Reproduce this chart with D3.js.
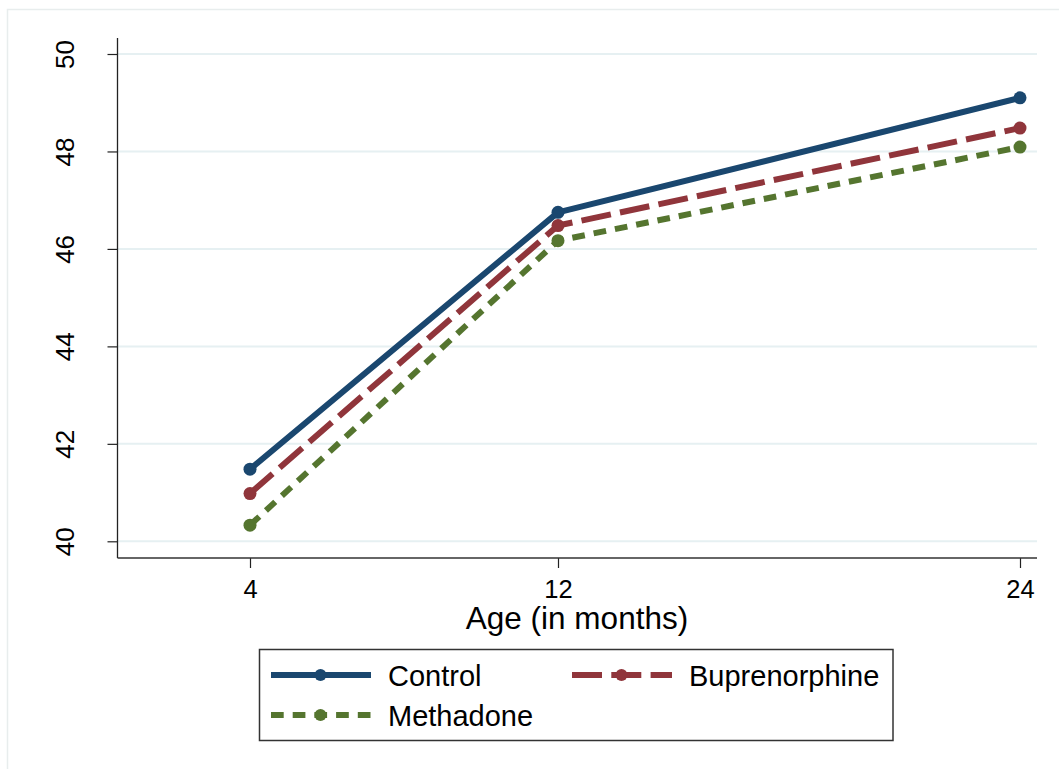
<!DOCTYPE html>
<html>
<head>
<meta charset="utf-8">
<script src="https://cdn.jsdelivr.net/npm/d3@7.9.0/dist/d3.min.js"></script>
<style>
  body { margin: 0; background: #fff; }
  svg { display: block; font-family: "Liberation Sans", Arial, sans-serif; }
</style>
</head>
<body>
<svg id="chart" width="1059" height="769"></svg>
<script>
// data
const ages = [4, 12, 24];
const control = [41.48, 46.75, 49.1];
const buprenorphine = [40.98, 46.48, 48.48];
const methadone = [40.33, 46.17, 48.09];
const yTicks = [40, 42, 44, 46, 48, 50];
const seriesNames = ['Control', 'Buprenorphine', 'Methadone'];

const series = [
  { name: seriesNames[0], values: control, color: '#1a476f', dash: null },
  { name: seriesNames[1], values: buprenorphine, color: '#90353b', dash: '30,9.3' },
  { name: seriesNames[2], values: methadone, color: '#55752f', dash: '12.7,9' }
];

const svg = d3.select('#chart');

// outer frame (only top/left visible in the image)
svg.append('rect')
  .attr('x', 7.5).attr('y', 9.5)
  .attr('width', 1100).attr('height', 800)
  .attr('fill', 'none').attr('stroke', '#e8eded').attr('stroke-width', 1.5);

const x = d3.scaleLinear().domain([4, 24]).range([250, 1020]);
const y = d3.scaleLinear().domain([40, 50]).range([541.3, 54]);
const plotLeft = 117.5, plotRight = 1037, plotTop = 38, plotBottom = 558;

// gridlines
svg.append('g').selectAll('line')
  .data(yTicks)
  .join('line')
  .attr('x1', plotLeft).attr('x2', plotRight)
  .attr('y1', d => y(d)).attr('y2', d => y(d))
  .attr('stroke', '#e6f0f2').attr('stroke-width', 2);

// y axis
const yAxis = svg.append('g')
  .attr('transform', `translate(${plotLeft},0)`)
  .call(d3.axisLeft(y).tickValues(yTicks).tickSize(10).tickSizeOuter(0));
yAxis.select('.domain').remove();
yAxis.selectAll('.tick line').attr('stroke', '#222').attr('stroke-width', 1.2);
yAxis.selectAll('.tick text')
  .attr('x', 0).attr('dy', null)
  .attr('transform', 'translate(-44,0) rotate(-90)')
  .attr('text-anchor', 'middle')
  .attr('font-size', 26).attr('fill', '#000');

svg.append('line')
  .attr('x1', plotLeft).attr('x2', plotLeft).attr('y1', plotTop).attr('y2', plotBottom)
  .attr('stroke', '#222').attr('stroke-width', 1.3);

// x axis
const xAxis = svg.append('g')
  .attr('transform', `translate(0,${plotBottom})`)
  .call(d3.axisBottom(x).tickValues(ages).tickSize(10).tickSizeOuter(0));
xAxis.select('.domain').remove();
xAxis.selectAll('.tick line').attr('stroke', '#222').attr('stroke-width', 1.2);
xAxis.selectAll('.tick text')
  .attr('y', 40).attr('dy', null)
  .attr('font-size', 25.5).attr('fill', '#000');

svg.append('line')
  .attr('x1', plotLeft).attr('x2', plotRight).attr('y1', plotBottom).attr('y2', plotBottom)
  .attr('stroke', '#333').attr('stroke-width', 1.3);

svg.append('text')
  .attr('x', 577).attr('y', 629)
  .attr('text-anchor', 'middle')
  .attr('font-size', 31.5)
  .text('Age (in months)');

// lines + markers
const line = d3.line().x((d, i) => x(ages[i])).y(d => y(d));

series.forEach(s => {
  svg.append('path')
    .attr('d', line(s.values))
    .attr('fill', 'none')
    .attr('stroke', s.color)
    .attr('stroke-width', 6)
    .attr('stroke-dasharray', s.dash)
    .attr('stroke-linejoin', 'round');
  svg.append('g').selectAll('circle')
    .data(s.values)
    .join('circle')
    .attr('cx', (d, i) => x(ages[i]))
    .attr('cy', d => y(d))
    .attr('r', 6.5)
    .attr('fill', s.color);
});

// legend
svg.append('rect')
  .attr('x', 259.5).attr('y', 649.5)
  .attr('width', 633.5).attr('height', 91)
  .attr('fill', '#fff').attr('stroke', '#333').attr('stroke-width', 1.5);

const legendPos = [
  { x: 271, y: 675 },
  { x: 572, y: 675 },
  { x: 271, y: 715 }
];

series.forEach((s, i) => {
  const p = legendPos[i];
  const g = svg.append('g').attr('transform', `translate(${p.x},${p.y})`);
  g.append('line')
    .attr('x1', 0).attr('x2', 100).attr('y1', 0).attr('y2', 0)
    .attr('stroke', s.color).attr('stroke-width', 6)
    .attr('stroke-dasharray', s.dash);
  g.append('circle').attr('cx', 49.5).attr('cy', 0).attr('r', 6).attr('fill', s.color);
  g.append('text')
    .attr('x', 117).attr('y', 10.5)
    .attr('font-size', 29)
    .text(s.name);
});
</script>
</body>
</html>
